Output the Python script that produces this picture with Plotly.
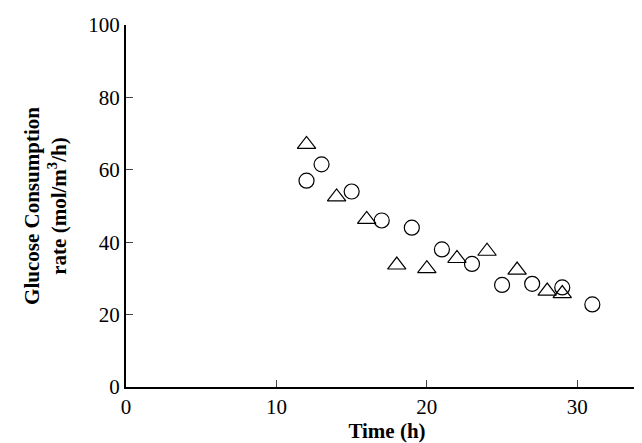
import plotly.graph_objects as go

circ_x = [12, 13, 15, 17, 19, 21, 23, 25, 27, 29, 31]
circ_y = [57, 61.5, 54, 46, 44, 38, 34, 28.2, 28.5, 27.5, 22.8]
tri_x = [12, 14, 16, 18, 20, 22, 24, 26, 28, 29]
tri_y = [67, 52.5, 46.3, 33.7, 32.7, 35.5, 37.5, 32.3, 26.5, 25.8]

fig = go.Figure()
fig.add_trace(go.Scatter(x=circ_x, y=circ_y, mode="markers",
    marker=dict(symbol="circle-open", size=15, color="black", line=dict(width=1.2))))
fig.add_trace(go.Scatter(x=tri_x, y=tri_y, mode="markers",
    marker=dict(symbol="triangle-up-open", size=16, color="black", line=dict(width=1.2))))

font = dict(family="Liberation Serif", size=21, color="black")
tfont = dict(family="Liberation Serif", size=21, color="black")
fig.update_layout(width=642, height=443, showlegend=False,
    paper_bgcolor="white", plot_bgcolor="white", font=font,
    margin=dict(l=118, r=0, t=17, b=64))
fig.update_xaxes(range=[0, 34.7], tickvals=[0, 10, 20, 30], ticks="inside", ticklen=7,
    showline=True, linecolor="black", linewidth=2, showgrid=False, zeroline=False,
    tickfont=font, title=dict(text="<b>Time (h)</b>", font=tfont, standoff=0))
fig.update_yaxes(range=[0, 100], tickvals=[0, 20, 40, 60, 80, 100], ticks="inside", ticklen=7,
    showline=True, linecolor="black", linewidth=2, mirror=True, showgrid=False, zeroline=False,
    tickfont=font,
    title=dict(text="<b>Glucose Consumption<br>rate (mol/m<sup>3</sup>/h)</b>", font=tfont, standoff=16))
fig.write_html("out.html")
